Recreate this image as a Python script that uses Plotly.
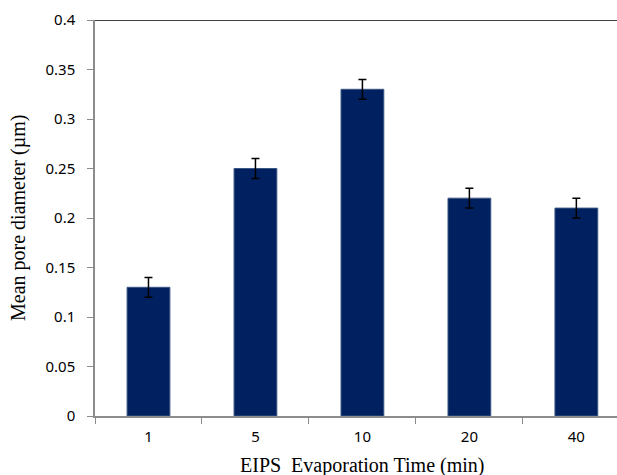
import plotly.graph_objects as go

# Evaporation time categories (min) and mean pore diameter (µm)
times = ["1", "5", "10", "20", "40"]
mean_diameter = [0.13, 0.25, 0.33, 0.22, 0.21]
err = [0.01, 0.01, 0.01, 0.01, 0.01]
y_ticks = [0, 0.05, 0.1, 0.15, 0.2, 0.25, 0.3, 0.35, 0.4]
y_tick_text = ["0", "0.05", "0.1", "0.15", "0.2", "0.25", "0.3", "0.35", "0.4"]

tick_font = dict(family="Noto Sans, Open Sans, sans-serif", size=15, color="black")
title_font = dict(family="Liberation Serif, Times New Roman, serif", size=20, color="black")

fig = go.Figure(
    go.Bar(
        x=times,
        y=mean_diameter,
        width=0.4,
        marker=dict(color="#002060", line=dict(color="#3b5683", width=1)),
        error_y=dict(type="data", array=err, visible=True, color="black",
                     thickness=1.5, width=4),
    )
)

fig.update_layout(
    width=617,
    height=475,
    margin=dict(l=95, r=0, t=20, b=59),
    plot_bgcolor="white",
    paper_bgcolor="white",
    showlegend=False,
    xaxis=dict(
        type="category",
        range=[-0.5, 4.38],
        showline=True, linecolor="#8c8c8c", linewidth=1.5,
        ticks="outside", tickson="boundaries", ticklen=6, tickcolor="#8c8c8c",
        tickfont=tick_font, ticklabelstandoff=6, showgrid=False, zeroline=False,
    ),
    yaxis=dict(
        range=[0, 0.4],
        tickvals=y_ticks, ticktext=y_tick_text,
        showline=True, linecolor="#8c8c8c", linewidth=1.5,
        ticks="outside", ticklen=6, tickcolor="#8c8c8c",
        tickfont=tick_font, ticklabelstandoff=9, showgrid=False, zeroline=False,
    ),
    shapes=[
        dict(type="line", xref="paper", yref="y", x0=0, x1=1, y0=0.4, y1=0.4,
             line=dict(color="black", width=1.5)),
    ],
    annotations=[
        dict(text="EIPS  Evaporation Time (min)", x=2, xref="x", y=0, yref="paper",
             yshift=-36, yanchor="top", showarrow=False, font=title_font),
        dict(text="Mean pore diameter (µm)", x=-0.1475, xref="paper", y=0.5, yref="paper",
             xanchor="center", yanchor="middle", textangle=-90, showarrow=False,
             font=title_font),
    ],
)

fig.write_html("out.html")
